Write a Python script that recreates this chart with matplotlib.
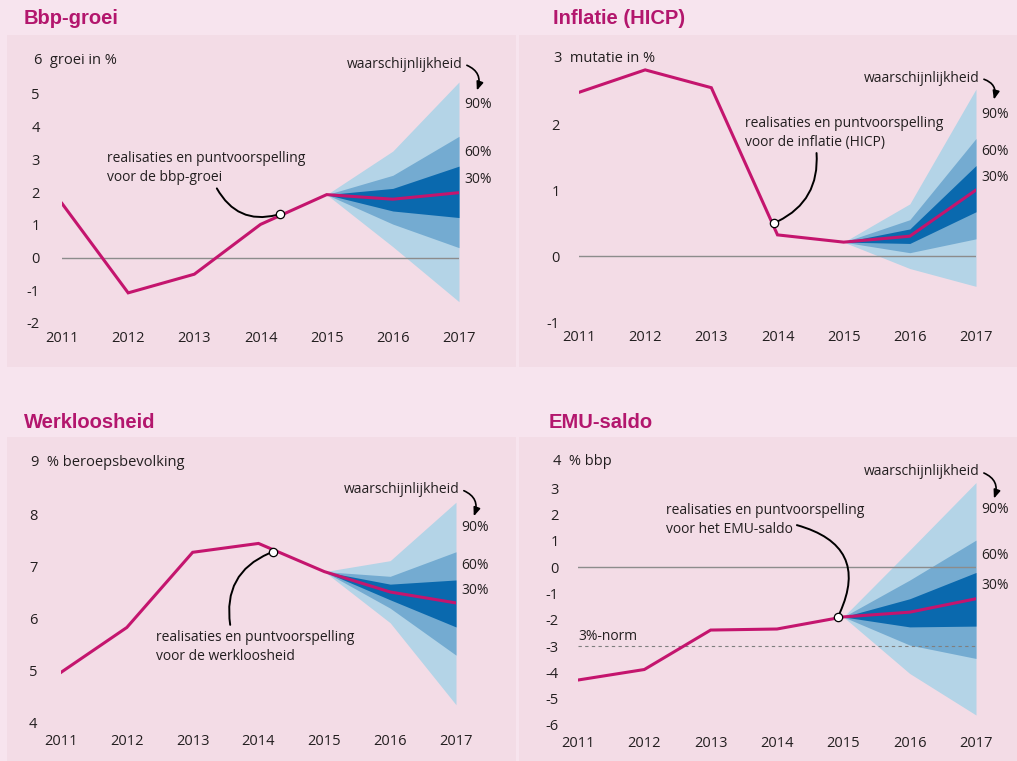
import matplotlib
matplotlib.use("Agg")
import matplotlib.pyplot as plt
import matplotlib.patches as mpatches

plt.rcParams['font.family'] = ['Open Sans', 'DejaVu Sans']

W, H = 1017, 761

# Data
years = [2011, 2012, 2013, 2014, 2015, 2016, 2017]
fan_years = [2015, 2016, 2017]

bbp = [1.65, -1.08, -0.51, 1.01, 1.92, 1.78, 1.98]
bbp_fan = {
    90: ([1.92, 3.25, 5.36], [1.92, 0.33, -1.35]),
    60: ([1.92, 2.51, 3.70], [1.92, 1.02, 0.30]),
    30: ([1.92, 2.11, 2.79], [1.92, 1.42, 1.22]),
}

hicp = [2.48, 2.82, 2.55, 0.32, 0.21, 0.30, 1.00]
hicp_fan = {
    90: ([0.21, 0.79, 2.53], [0.21, -0.19, -0.46]),
    60: ([0.21, 0.55, 1.78], [0.21, 0.05, 0.26]),
    30: ([0.21, 0.41, 1.37], [0.21, 0.19, 0.67]),
}

wl = [4.97, 5.83, 7.27, 7.44, 6.90, 6.51, 6.30]
wl_fan = {
    90: ([6.90, 7.11, 8.23], [6.90, 5.92, 4.35]),
    60: ([6.90, 6.81, 7.28], [6.90, 6.20, 5.30]),
    30: ([6.90, 6.66, 6.74], [6.90, 6.36, 5.84]),
}

emu = [-4.29, -3.89, -2.39, -2.35, -1.89, -1.71, -1.20]
emu_fan = {
    90: ([-1.89, 0.65, 3.22], [-1.89, -4.04, -5.62]),
    60: ([-1.89, -0.49, 1.03], [-1.89, -2.96, -3.47]),
    30: ([-1.89, -1.20, -0.20], [-1.89, -2.27, -2.24]),
}

outer_bg = '#f7e4ee'
panel_bg = '#f3dce6'
magenta = '#c4156e'
title_col = '#b3166d'
fan_cols = {90: '#b4d4e7', 60: '#74abd1', 30: '#0a69ae'}
txt_col = '#231f20'

fig = plt.figure(figsize=(W / 100, H / 100), dpi=100)
fig.patch.set_facecolor(outer_bg)


def px_rect(x0, y0, x1, y1):
    # pixel box (top-left origin) -> figure fraction
    return [x0 / W, 1 - y1 / H, (x1 - x0) / W, (y1 - y0) / H]


# panel backgrounds
for (x0, y0, x1, y1) in [(7, 35, 516, 367), (519, 35, 1017, 367),
                         (7, 437, 516, 761), (519, 437, 1017, 761)]:
    r = px_rect(x0, y0, x1, y1)
    fig.patches.append(mpatches.Rectangle((r[0], r[1]), r[2], r[3],
                                          transform=fig.transFigure,
                                          facecolor=panel_bg, edgecolor='none', zorder=-5))


def make_panel(title, tpos, box, ylim, yticks, unit, vals, fan, marker, note, note_pos,
               conn_start, rad, waar, pct_y, ypad, xpad):
    ax = fig.add_axes(px_rect(*box))
    ax.set_facecolor('none')
    ax.set_xlim(2011, 2017)
    ax.set_ylim(*ylim)
    for s in ax.spines.values():
        s.set_visible(False)
    ax.set_yticks(yticks)
    ax.set_yticklabels([str(t) if t >= 0 else '-' + str(-t) for t in yticks])
    ax.set_xticks(years)
    ax.set_xticklabels([str(y) for y in years])
    ax.tick_params(axis='y', length=0, pad=ypad, labelsize=10.5, labelcolor=txt_col)
    ax.tick_params(axis='x', length=0, pad=xpad, labelsize=10.5, labelcolor=txt_col)
    # top tick label is drawn together with the unit text
    ax.get_yticklabels()[-1].set_visible(False)
    fig.text(tpos[0] / W, 1 - tpos[1] / H, title, fontsize=14.5, fontweight='bold',
             color=title_col, family='Liberation Sans', va='center', ha='left')

    for p in (90, 60, 30):
        hi, lo = fan[p]
        ax.fill_between(fan_years, lo, hi, color=fan_cols[p], lw=0, zorder=3)

    ax.axhline(0, xmin=0, xmax=1, color='#8c8c8c', lw=1.0, zorder=4)

    ax.plot(years, vals, color=magenta, lw=2.2, zorder=5, solid_joinstyle='miter')
    ax.plot([marker[0]], [marker[1]], 'o', ms=6, mfc='white', mec='black', mew=0.9, zorder=6)

    ax.annotate('', xy=marker, xytext=conn_start,
                arrowprops=dict(arrowstyle='-', color='black', lw=1.4,
                                connectionstyle='arc3,rad=%s' % rad, shrinkA=0, shrinkB=3),
                zorder=4)
    ax.text(note_pos[0], note_pos[1], note, fontsize=10, color=txt_col, va='top', ha='left',
            linespacing=1.35, zorder=7)

    # unit label beside top tick
    top = yticks[-1]
    ax.annotate(str(top) + '  ' + unit, xy=(0, top), xycoords=('axes fraction', 'data'),
                xytext=(-ypad - 4.3, 0), textcoords='offset points', fontsize=10.5,
                color=txt_col, va='center', ha='left', annotation_clip=False)

    # probability labels
    ax.text(2017.05, waar[0], 'waarschijnlijkheid', fontsize=10, color=txt_col,
            ha='right', va='center', clip_on=False)
    ax.annotate('', xy=(2017.27, waar[1]), xytext=(2017.08, waar[0]),
                arrowprops=dict(arrowstyle='-|>,head_length=0.5,head_width=0.2', color='black',
                                lw=1.2, connectionstyle='arc3,rad=-0.5',
                                shrinkA=2, shrinkB=0),
                annotation_clip=False)
    for p, yv in zip((90, 60, 30), pct_y):
        ax.text(2017.08, yv, '%d%%' % p, fontsize=10, color=txt_col, ha='left', va='center',
                clip_on=False)
    return ax


make_panel('Bbp-groei', (24, 18), (62, 61, 459, 323), (-2, 6), list(range(-2, 7)),
           'groei in %', bbp, bbp_fan, (2014.30, 1.33),
           'realisaties en puntvoorspelling\nvoor de bbp-groei', (2011.68, 3.25),
           (2013.34, 2.11), 0.4, (5.9, 5.1), (4.66, 3.22, 2.37), 16, 6)

make_panel('Inflatie (HICP)', (553, 18), (579, 58, 976, 322), (-1, 3), list(range(-1, 4)),
           'mutatie in %', hicp, hicp_fan, (2013.95, 0.50),
           'realisaties en puntvoorspelling\nvoor de inflatie (HICP)', (2013.51, 2.12),
           (2014.59, 1.56), -0.35, (2.69, 2.37), (2.15, 1.59, 1.19), 14, 6)

ax3 = make_panel('Werkloosheid', (24, 422), (61, 462, 456, 723), (4, 9), list(range(4, 10)),
                 '% beroepsbevolking', wl, wl_fan, (2014.22, 7.28),
                 'realisaties en puntvoorspelling\nvoor de werkloosheid', (2012.44, 5.78),
                 (2013.57, 5.88), -0.4, (8.47, 7.96), (7.75, 7.01, 6.53), 17, 8)

ax4 = make_panel('EMU-saldo', (549, 422), (578, 462, 976, 725), (-6, 4), list(range(-6, 5)),
                 '% bbp', emu, emu_fan, (2014.92, -1.88),
                 'realisaties en puntvoorspelling\nvoor het EMU-saldo', (2012.32, 2.45),
                 (2014.30, 1.60), -0.6, (3.62, 2.61), (2.19, 0.46, -0.68), 14, 8)

ax4.axhline(-3, color='#7f7f7f', lw=0.8, ls=(0, (3, 3)), zorder=4)
ax4.text(2011, -2.62, '3%-norm', fontsize=10, color=txt_col, ha='left', va='center')

fig.savefig('out.png', dpi=100, facecolor=outer_bg)
